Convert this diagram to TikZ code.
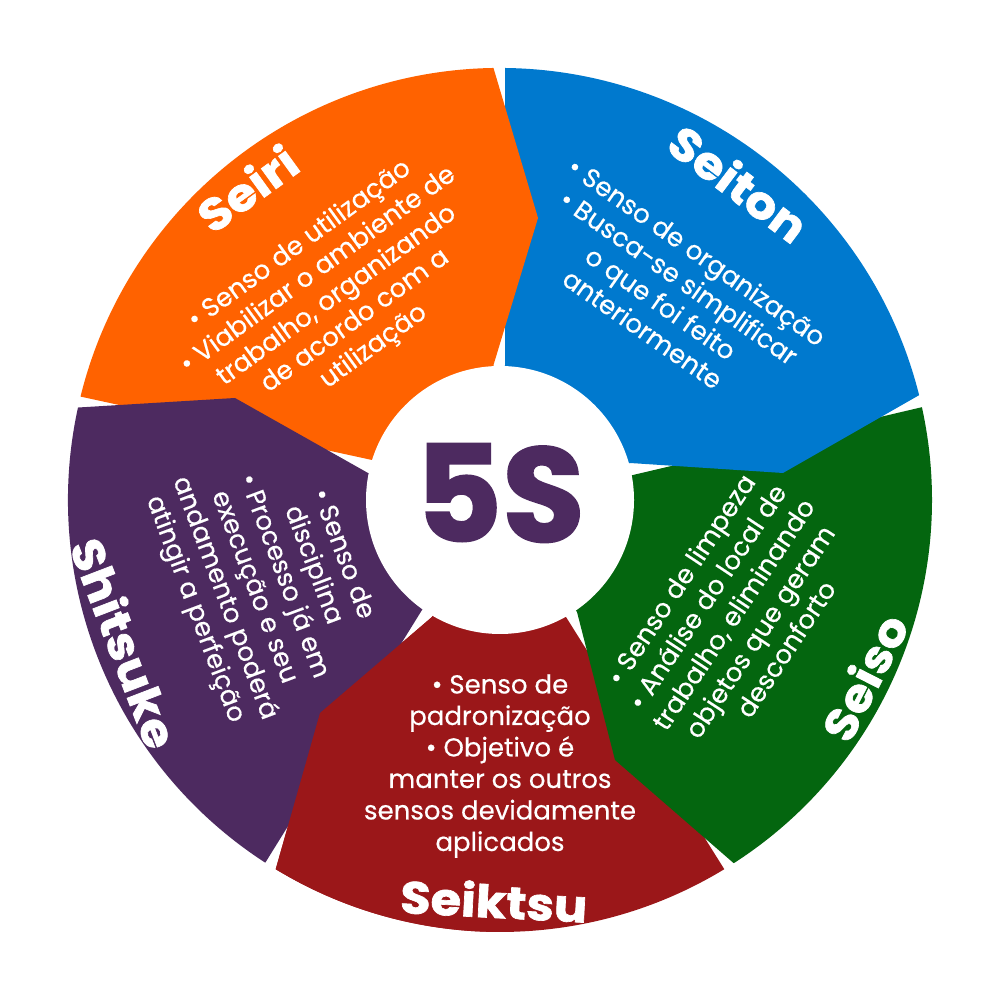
\documentclass[tikz,border=0pt]{standalone}
\usepackage{fontspec}
\setmainfont{Poppins}[FakeBold=0.4]
\newfontfamily\titlefont{Poppins}[FakeBold=1.5,FakeStretch=1.1]
\newfontfamily\bigfont{Poppins}[FakeBold=1.5]
\definecolor{orng}{HTML}{FF6200}
\definecolor{blu}{HTML}{0079CE}
\definecolor{grn}{HTML}{04660F}
\definecolor{redd}{HTML}{9B1719}
\definecolor{purp}{HTML}{4D2A60}
\begin{document}
\begin{tikzpicture}[x=1pt,y=1pt,
  titletxt/.style={text=white, font=\titlefont\fontsize{45}{45}\selectfont\bfseries, inner sep=0pt},
  bodytxt/.style={text=white, font=\fontsize{26}{31.5}\selectfont, align=center, inner sep=0pt}]
\useasboundingbox (0,0) rectangle (1000,1000);
% pieces (each chevron overlaps the clockwise neighbour)
\fill[redd] (566,383) -- (724.3,130.8) arc[start angle=-58.72,end angle=-121.28,radius=432] -- (320,287) -- (432,383) -- (500,500) -- cycle;
\fill[grn] (633,525) -- (921.9,592.8) arc[start angle=12.4,end angle=-57.24,radius=432] -- (615,240) -- (577,388) -- (500,500) -- cycle;
\fill[blu] (505,635) -- (505,932) arc[start angle=89.34,end angle=14.04,radius=432] -- (783,527) -- (630,537) -- (500,500) -- cycle;
\fill[orng] (80.5,603.4) arc[start angle=166.16,end angle=90.86,radius=432] -- (538,782) -- (493.5,635) -- (500,500) -- (372,540) -- cycle;
\fill[purp] (422,390) -- (265.3,137.3) arc[start angle=237.1,end angle=167.64,radius=432] -- (235,602) -- (368,527) -- (500,500) -- cycle;
\begin{scope}
\clip (0,0) rectangle (500,1000);
\fill[redd] (566,383) -- (724.3,130.8) arc[start angle=-58.72,end angle=-121.28,radius=432] -- (320,287) -- (432,383) -- (500,500) -- cycle;
\end{scope}
\fill[white] (500,500) circle[radius=134];
% centre
\node[font=\bigfont\fontsize{134}{134}\selectfont\bfseries, text=purp, inner sep=0pt] (five) at (500,507) {5S};
% Seiri
\node[titletxt, rotate=36] (t1) at (247,812) {Seiri};
\node[bodytxt, rotate=36] (b1) at (337,704) {• Senso de utilização\\• Viabilizar o ambiente de\\trabalho, organizando\\de acordo com a\\utilização};
% Seiton
\node[titletxt, rotate=-37] (t2) at (739,817) {Seiton};
\node[bodytxt, rotate=-35] (b2) at (670,710) {• Senso de organização\\• Busca-se simplificar\\o que foi feito\\anteriormente};
% Seiso
\node[titletxt, rotate=63] (t3) at (864,323) {Seiso};
\node[bodytxt, rotate=56.5] (b3) at (733,386) {• Senso de limpeza\\• Análise do local de\\trabalho, eliminando\\objetos que geram\\desconforto};
% Seiktsu
\node[titletxt, rotate=-3] (t4) at (494,100) {Seiktsu};
\node[bodytxt] (b4) at (500,234) {• Senso de\\padronização\\• Objetivo é\\manter os outros\\sensos devidamente\\aplicados};
% Shitsuke
\node[titletxt, rotate=-69] (t5) at (125,357) {Shitsuke};
\node[bodytxt, rotate=-69.5] (b5) at (268,418) {• Senso de\\disciplina\\• Processo já em\\execução e seu\\andamento poderá\\atingir a perfeição};
\end{tikzpicture}
\end{document}
